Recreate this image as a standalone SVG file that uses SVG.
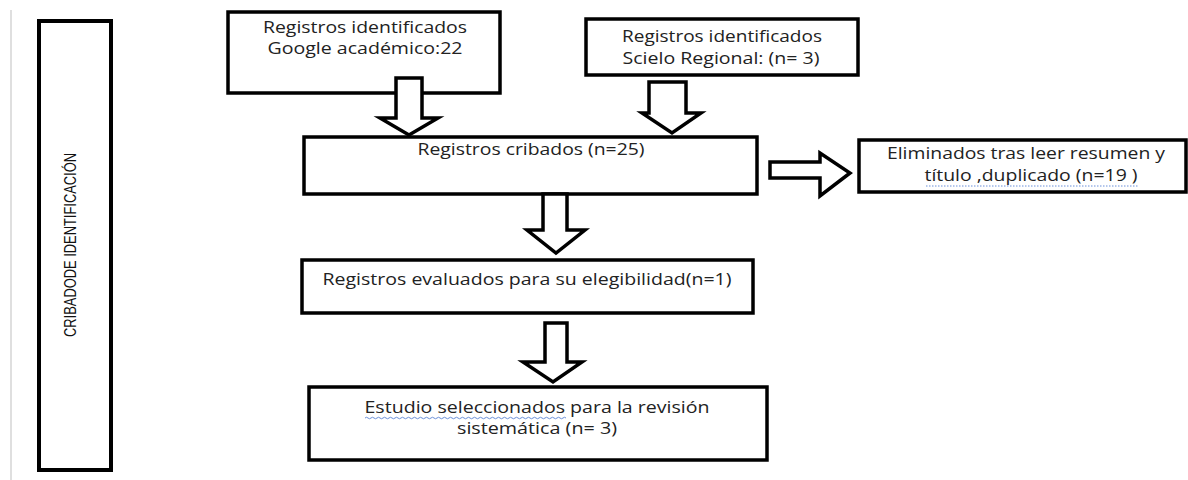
<svg xmlns="http://www.w3.org/2000/svg" width="1188" height="480" viewBox="0 0 1188 480">
<style>
.box{fill:#fff;stroke:#000;stroke-width:3.5}
.arr{fill:#fff;stroke:#000;stroke-width:3.5;stroke-linejoin:miter}
.t{font-family:"Open Sans","Liberation Sans",sans-serif;font-size:16px;fill:#222;text-anchor:middle}
</style>
<rect width="1188" height="480" fill="#fff"/>
<line x1="11" y1="10" x2="11" y2="480" stroke="#d4d4d4" stroke-width="1.5"/>
<g id="side">
<rect x="39" y="21" width="72" height="449" fill="#fff" stroke="#000" stroke-width="4"/>
<text transform="translate(76,245) rotate(-90)" font-family="'Liberation Sans',sans-serif" font-size="16" fill="#111" text-anchor="middle" textLength="184" lengthAdjust="spacingAndGlyphs">CRIBADODE IDENTIFICACIÓN</text>
</g>
<g id="google">
<rect class="box" x="228" y="12" width="272" height="81"/>
<text class="t" x="365" y="33" textLength="204" lengthAdjust="spacingAndGlyphs">Registros identificados</text>
<text class="t" x="365" y="54" textLength="195" lengthAdjust="spacingAndGlyphs">Google académico:22</text>
</g>
<g id="scielo">
<rect class="box" x="586" y="19" width="272" height="56"/>
<text class="t" x="722" y="42" textLength="200" lengthAdjust="spacingAndGlyphs">Registros identificados</text>
<text class="t" x="721" y="64" textLength="197" lengthAdjust="spacingAndGlyphs">Scielo Regional: (n= 3)</text>
</g>
<g id="cribados">
<rect class="box" x="304" y="137" width="453" height="57"/>
<text class="t" x="531" y="155" textLength="227" lengthAdjust="spacingAndGlyphs">Registros cribados (n=25)</text>
</g>
<g id="eliminados">
<rect class="box" x="859" y="140" width="327" height="52"/>
<text class="t" x="1026" y="159" textLength="278" lengthAdjust="spacingAndGlyphs">Eliminados tras leer resumen y</text>
<text class="t" x="1031" y="181" textLength="213" lengthAdjust="spacingAndGlyphs">título ,duplicado (n=19 )</text>
<path d="M926 186 H1138" stroke="#6a8fd8" stroke-width="1" stroke-dasharray="1.5,1.5" fill="none"/>
</g>
<g id="evaluados">
<rect class="box" x="302" y="260" width="451" height="53"/>
<text class="t" x="527" y="285" textLength="409" lengthAdjust="spacingAndGlyphs">Registros evaluados para su elegibilidad(n=1)</text>
</g>
<g id="estudio">
<rect class="box" x="309" y="387" width="458" height="73"/>
<text class="t" x="537" y="413" textLength="345" lengthAdjust="spacingAndGlyphs">Estudio seleccionados para la revisión</text>
<text class="t" x="537" y="434" textLength="160" lengthAdjust="spacingAndGlyphs">sistemática (n= 3)</text>
<path d="M365 418 q1.5 -1.5 3 0 t3 0 t3 0 t3 0 t3 0 t3 0 t3 0 t3 0 t3 0 t3 0 t3 0 t3 0 t3 0 t3 0 t3 0 t3 0 t3 0 t3 0 t3 0 t3 0 t3 0 t3 0 t3 0 t3 0 t3 0 t3 0 t3 0 t3 0 t3 0 t3 0 t3 0 t3 0 t3 0 t3 0 t3 0 t3 0 t3 0 t3 0 t3 0 t3 0 t3 0 t3 0 t3 0 t3 0 t3 0 t3 0 t3 0 t3 0 t3 0 t3 0 t3 0 t3 0 t3 0 t3 0 t3 0 t3 0 t3 0 t3 0 t3 0 t3 0 t3 0 t3 0 t3 0 t3 0 t3 0 t3 0 t3 0" stroke="#6a8fd8" stroke-width="1" fill="none"/>
</g>
<g id="connectors">
<path class="arr" d="M396 78 V118 H380 L409 135 L438 118 H422 V78 Z"/>
<path class="arr" d="M649 82 V113 H642 L672 133 L701 113 H686 V82 Z"/>
<path class="arr" d="M543 194 V230 H527 L556 253 L585 230 H567 V194 Z"/>
<path class="arr" d="M545 323 V362 H523 L553 382 L582 362 H567 V323 Z"/>
<path class="arr" d="M770 162 H820 V153 L850 173 L820 196 V178 H770 Z"/>
</g>
</svg>
